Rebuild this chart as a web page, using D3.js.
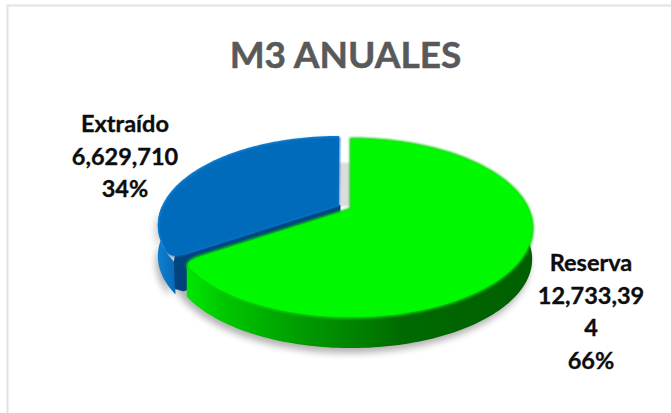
<!DOCTYPE html>
<html><head><meta charset="utf-8">
<script src="https://cdn.jsdelivr.net/npm/d3@7"></script>
<style>html,body{margin:0;padding:0;background:#fff}svg{display:block}</style>
</head><body><svg id="c" width="671" height="413"></svg>
<script>
const categories = ["Reserva", "Extraído"];
const values = [12733394, 6629710];
const valueLabels = [["12,733,39", "4"], ["6,629,710"]];
const percentLabels = ["66%", "34%"];
const chartTitle = "M3 ANUALES";
const faceColors = ["#00f800", "#026bbb"];

const W = 671, H = 413, font = "Lato, 'Open Sans', sans-serif";
const svg = d3.select("#c").attr("viewBox", [0, 0, W, H]);
const defs = svg.append("defs");
defs.append("filter").attr("id", "shadow").attr("x", "-20%").attr("y", "-20%").attr("width", "140%").attr("height", "140%")
  .append("feGaussianBlur").attr("stdDeviation", 3.5);
defs.append("filter").attr("id", "soft").attr("x", "-5%").attr("y", "-5%").attr("width", "110%").attr("height", "110%")
  .append("feGaussianBlur").attr("stdDeviation", 1.2);
function grad(id, stops) {
  const g = defs.append("linearGradient").attr("id", id);
  stops.forEach(([o, c]) => g.append("stop").attr("offset", o).attr("stop-color", c));
}
grad("gWall", [[0, "#00e800"], [0.1, "#00c800"], [0.35, "#009800"], [0.5, "#008000"], [0.62, "#006a00"], [1, "#005f00"]]);
grad("bWall", [[0, "#0f7fd0"], [1, "#056ab8"]]);

svg.append("rect").attr("x", 0).attr("y", 0).attr("width", W).attr("height", H).attr("fill", "#fff");
svg.append("path").attr("d", `M7.5,${H}V5.5H${W}`).attr("fill", "none").attr("stroke", "#e2e2e2").attr("stroke-width", 2);

// Perspective disc: apex position, half width, vertical scale, foreshortening
const apex = { x: 351, y: 209 }, f = 177, g = 85, k = 0.2135, depth = 31;
const project = (a, r = 1, dx = 0, dy = 0) => {
  const X = Math.sin(a) * r, Y = -Math.cos(a) * r, w = 1 - k * Y;
  return [apex.x + dx + f * X / w, apex.y + dy + g * Y / w];
};
const arcs = d3.pie().sort(null).value(d => d)(values);
const offsets = [[0, 0], [-12, -3]];
const line = d3.line();
const steps = (a0, a1) => d3.range(0, 121).map(i => a0 + (a1 - a0) * i / 120);
const wallPts = (a0, a1, o) => {
  const t = steps(a0, a1).map(a => project(a, 1, o[0], o[1]));
  return [...t, ...t.slice().reverse().map(p => [p[0], p[1] + depth])];
};
const G = arcs[0], B = arcs[1];
const oB = offsets[1], oG = offsets[0];
const vis0 = Math.PI / 2;
const round = 0.07;

// Face path for the slice whose end corner near the viewer is rounded
function greenFace() {
  const p = d3.path(), c = project(0, 0, oG[0], oG[1]);
  p.moveTo(c[0], c[1]);
  steps(G.startAngle, G.endAngle - round).forEach(a => { const q = project(a); p.lineTo(q[0], q[1]); });
  const t = project(G.endAngle), e = project(G.endAngle, 0.9);
  p.quadraticCurveTo(t[0], t[1], e[0], e[1]);
  p.closePath();
  return p.toString();
}
function blueFace(d) {
  const p = d3.path(), c = project(0, 0, oB[0], oB[1]);
  const t = project(B.startAngle, 1, oB[0] + d, oB[1] + d), s = project(B.startAngle, 0.9, oB[0], oB[1]);
  p.moveTo(c[0], c[1]); p.lineTo(s[0], s[1]);
  const n = project(B.startAngle + round, 1, oB[0] + d, oB[1] + d);
  p.quadraticCurveTo(t[0], t[1], n[0], n[1]);
  steps(B.startAngle + round, B.endAngle).forEach(a => { const q = project(a, 1, oB[0] + d, oB[1] + d); p.lineTo(q[0], q[1]); });
  p.closePath();
  return p.toString();
}

// drop shadow
const sh = svg.append("g").attr("filter", "url(#shadow)").attr("fill", "#000").attr("opacity", 0.3);
sh.append("path").attr("d", line(wallPts(vis0, 2 * Math.PI * 0.8, [oG[0] - 2, oG[1] + 5])) + "Z");
sh.append("path").attr("d", line(wallPts(G.endAngle, 1.5 * Math.PI, [oB[0] - 2, oB[1] + 6])) + "Z");
const tipShadow = [project(0, 0.02, -16, -1), project(0, 0.6, -16, -1), project(0, 0.6, 0, -1), project(0, 0.02, 0, -1)];
svg.append("path").attr("d", line(tipShadow) + "Z").attr("fill", "#dcdcdc").attr("filter", "url(#soft)");

// Extraído: outer wall, cut wall, face
svg.append("path").attr("d", line(wallPts(B.startAngle - 0.05, 1.5 * Math.PI, oB)) + "Z").attr("fill", "url(#bWall)");
const tip = project(B.startAngle, 1, oB[0], oB[1]), ap = project(0, 0, oB[0], oB[1]);
svg.append("path").attr("d", line([ap, [tip[0] + 20, tip[1] - 8], [tip[0] + 5, tip[1] - 3], [tip[0] + 4, tip[1] + 3], [tip[0] + 5, tip[1] + depth - 2], [tip[0] + 12, tip[1] + depth], [ap[0], ap[1] + depth]]) + "Z")
  .attr("fill", "#02447e").attr("stroke", "#02447e").attr("stroke-width", 3).attr("stroke-linejoin", "round");
svg.append("path").attr("d", blueFace(0)).attr("fill", "#1582d4");
svg.append("path").attr("d", blueFace(1)).attr("fill", faceColors[1]).attr("filter", "url(#soft)");

// Reserva: outer wall, face
svg.append("path").attr("d", line(wallPts(vis0 - 0.22, G.endAngle - round * 0.6, oG)) + "Z").attr("fill", "url(#gWall)");
svg.append("path").attr("d", greenFace()).attr("fill", "#00e000").attr("stroke", "#00d800").attr("stroke-width", 3).attr("filter", "url(#soft)");
svg.append("path").attr("d", greenFace()).attr("fill", faceColors[0]);

// Text
svg.append("text").text(chartTitle).attr("x", 345.5).attr("y", 68).attr("text-anchor", "middle")
  .attr("font-family", font).attr("font-weight", 700).attr("font-size", 37).attr("fill", "#595959")
  .attr("stroke", "#595959").attr("stroke-width", 0.5);
const labelPos = [[591, 271], [125, 132]];
categories.forEach((c, i) => {
  const rows = [c, ...valueLabels[i], percentLabels[i]];
  svg.append("g").selectAll("text").data(rows).join("text").text(d => d)
    .attr("x", labelPos[i][0]).attr("y", (d, j) => labelPos[i][1] + j * 32.5).attr("text-anchor", "middle")
    .attr("font-family", font).attr("font-weight", 700).attr("font-size", 23.5).attr("fill", "#0d0d0d")
    .attr("stroke", "#0d0d0d").attr("stroke-width", 0.35);
});
</script></body></html>
